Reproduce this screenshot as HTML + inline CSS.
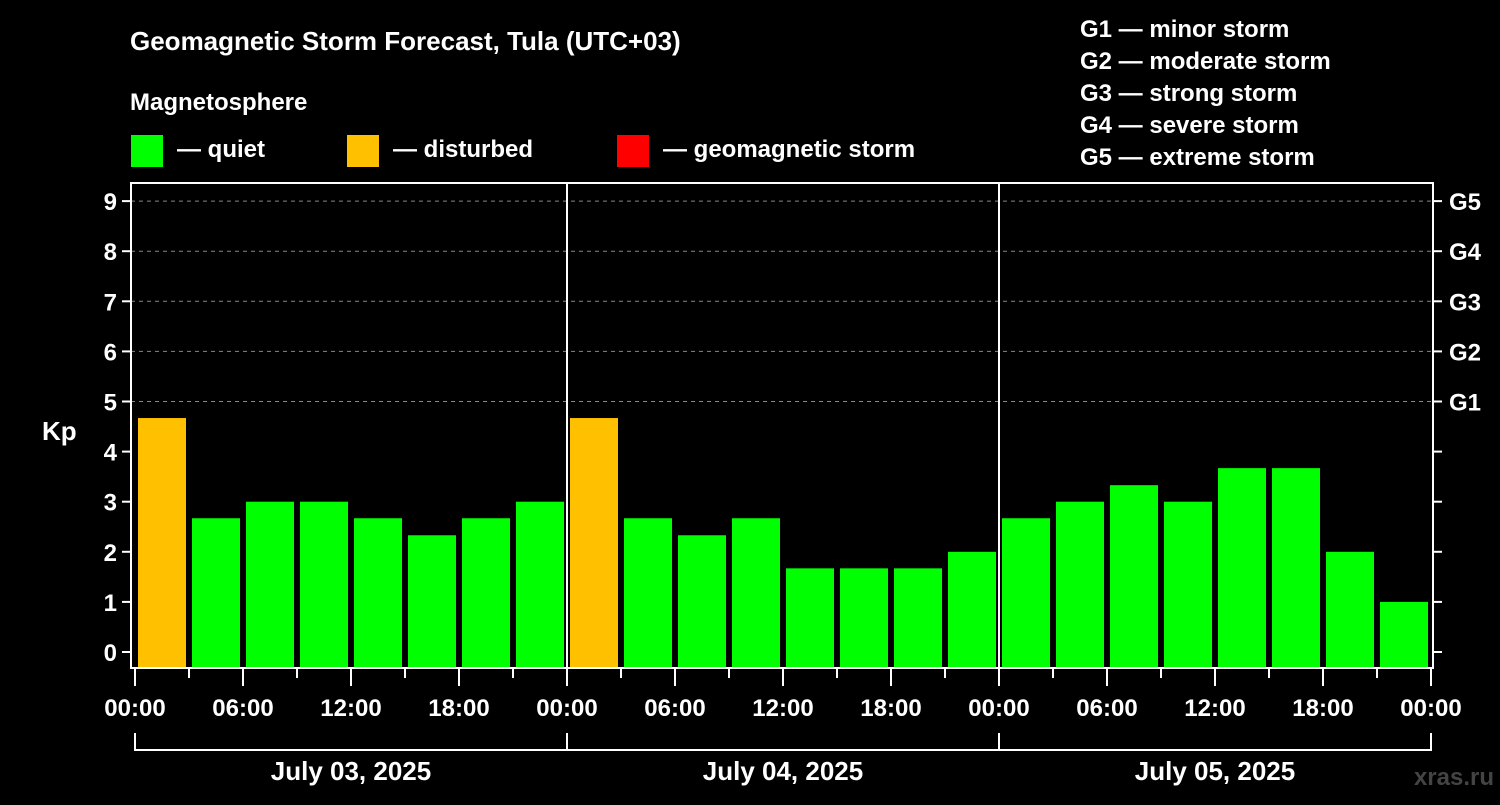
<!DOCTYPE html>
<html><head><meta charset="utf-8"><style>
body{margin:0;background:#000;width:1500px;height:800px;overflow:hidden}
svg text{font-family:"Liberation Sans",sans-serif;font-weight:bold;fill:#fff}
</style></head><body>
<svg id="c" width="1500" height="800" xmlns="http://www.w3.org/2000/svg">
<rect width="1500" height="800" fill="#000"/>
<text x="130" y="50" font-size="26">Geomagnetic Storm Forecast, Tula (UTC+03)</text>
<text x="130" y="110" font-size="24">Magnetosphere</text>
<g><rect x="131" y="135" width="32" height="32" fill="#00ff00"/><text x="177" y="157" font-size="24">— quiet</text></g>
<g><rect x="347" y="135" width="32" height="32" fill="#ffc000"/><text x="393" y="157" font-size="24">— disturbed</text></g>
<g><rect x="617" y="135" width="32" height="32" fill="#ff0000"/><text x="663" y="157" font-size="24">— geomagnetic storm</text></g>
<g font-size="24">
<text x="1080" y="37">G1 — minor storm</text><text x="1080" y="69">G2 — moderate storm</text><text x="1080" y="101">G3 — strong storm</text><text x="1080" y="133">G4 — severe storm</text><text x="1080" y="165">G5 — extreme storm</text></g>
<text x="42" y="440" font-size="26">Kp</text>
<text x="1494" y="785" font-size="24" fill="#444" style="fill:#444" text-anchor="end">xras.ru</text>
<g id="plot"></g>
</svg>
<script>
const kpValues=[4.67,2.67,3,3,2.67,2.33,2.67,3, 4.67,2.67,2.33,2.67,1.67,1.67,1.67,2, 2.67,3,3.33,3,3.67,3.67,2,1];
const dayLabels=["July 03, 2025","July 04, 2025","July 05, 2025"];
const hourLabels=["00:00","06:00","12:00","18:00"];
const yTicks=[0,1,2,3,4,5,6,7,8,9];
const gLabels=["G1","G2","G3","G4","G5"];
const NS="http://www.w3.org/2000/svg";
const g=document.getElementById('plot');
const x0=135,slot=54,L=131,R=1433,T=183,B=668;
const y=v=>652-v*50.1;
function mk(t,a){const e=document.createElementNS(NS,t);for(const k in a)e.setAttribute(k,a[k]);g.appendChild(e);return e;}
// grid
yTicks.forEach(v=>{
 if(v>=5){const l=mk('line',{x1:L,x2:R,y1:y(v),y2:y(v),stroke:'#888','stroke-dasharray':'4,4','stroke-width':1});
 
 }
 const t=mk('line',{x1:L-9,x2:L,y1:y(v),y2:y(v),stroke:'#fff','stroke-width':2});
 
 
 const tx=mk('text',{x:L-14,y:y(v)+9,'font-size':24,'text-anchor':'end'});tx.textContent=v;
 
 
 const rt=mk('line',{x1:R,x2:R+9,y1:y(v),y2:y(v),stroke:'#fff','stroke-width':2});
 
 
});
gLabels.forEach((s,i)=>{const tx=mk('text',{x:R+16,y:y(5+i)+9,'font-size':24});tx.textContent=s;
 
 });
// bars
kpValues.forEach((v,i)=>{
 const xs=x0+i*slot+3;
 const col=v>=5?'#ff0000':(v>=4?'#ffc000':'#00ff00');
 const r=mk('rect',{x:xs,y:y(v),width:48,height:B-y(v),fill:col});
 
 
});
// frame
const f=mk('rect',{x:L,y:T,width:R-L,height:B-T,fill:'none',stroke:'#fff','stroke-width':2});


for(let d=1;d<3;d++){const l=mk('line',{x1:x0+d*432,x2:x0+d*432,y1:T,y2:B,stroke:'#fff','stroke-width':2});
 
 }
// x ticks
for(let i=0;i<=24;i++){
 const xx=x0+i*slot;const major=i%2==0;
 const t=mk('line',{x1:xx,x2:xx,y1:B,y2:major?686:678,stroke:'#fff','stroke-width':2});
 
 
 if(major){const tx=mk('text',{x:xx,y:716,'font-size':24,'text-anchor':'middle'});tx.textContent=hourLabels[(i/2)%4];
 
 }
}
dayLabels.forEach((s,d)=>{
 const a=x0+d*432,b=a+432;
 const p=mk('path',{d:`M${a},733V750H${b}V733`,fill:'none',stroke:'#fff','stroke-width':2});
 
 
 const tx=mk('text',{x:(a+b)/2,y:780,'font-size':26,'text-anchor':'middle'});tx.textContent=s;
 
 
});
</script>
</body></html>
